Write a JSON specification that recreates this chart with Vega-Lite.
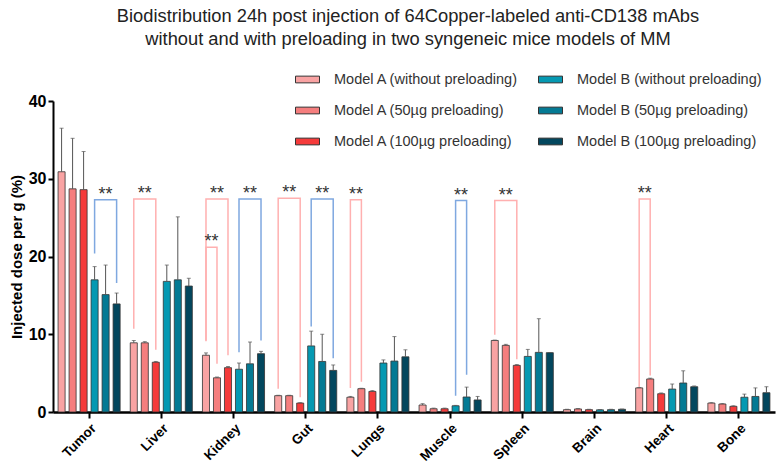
{
  "$schema": "https://vega.github.io/schema/vega-lite/v6.json",
  "autosize": {"type": "none"},
  "width": 722,
  "height": 311,
  "padding": {"left": 53, "top": 101, "right": 9, "bottom": 57},
  "background": "white",
  "title": {
    "text": ["Biodistribution 24h post injection of 64Copper-labeled anti-CD138 mAbs", "without and with preloading in two syngeneic mice models of MM"],
    "font": "Liberation Sans", "fontSize": 18.3, "fontWeight": "normal", "color": "#222",
    "anchor": "middle", "frame": "group", "offset": 18, "lineHeight": 23, "dx": -6
  },
  "config": {"view": {"stroke": null}, "font": "Liberation Sans"},
  "datasets": {
    "bars": [
      {"organ": "Tumor", "group": "Model A (without preloading)", "value": 30.9, "err": 36.5},
      {"organ": "Tumor", "group": "Model A (50µg preloading)", "value": 28.7, "err": 35.2},
      {"organ": "Tumor", "group": "Model A (100µg preloading)", "value": 28.6, "err": 33.5},
      {"organ": "Tumor", "group": "Model B (without preloading)", "value": 17.0, "err": 18.7},
      {"organ": "Tumor", "group": "Model B (50µg preloading)", "value": 15.1, "err": 18.9},
      {"organ": "Tumor", "group": "Model B (100µg preloading)", "value": 13.9, "err": 15.3},
      {"organ": "Liver", "group": "Model A (without preloading)", "value": 8.9, "err": 9.2},
      {"organ": "Liver", "group": "Model A (50µg preloading)", "value": 8.9, "err": 9.05},
      {"organ": "Liver", "group": "Model A (100µg preloading)", "value": 6.4, "err": 6.5},
      {"organ": "Liver", "group": "Model B (without preloading)", "value": 16.8, "err": 18.9},
      {"organ": "Liver", "group": "Model B (50µg preloading)", "value": 17.0, "err": 25.1},
      {"organ": "Liver", "group": "Model B (100µg preloading)", "value": 16.2, "err": 17.2},
      {"organ": "Kidney", "group": "Model A (without preloading)", "value": 7.3, "err": 7.6},
      {"organ": "Kidney", "group": "Model A (50µg preloading)", "value": 4.4, "err": 4.5},
      {"organ": "Kidney", "group": "Model A (100µg preloading)", "value": 5.7, "err": 5.85},
      {"organ": "Kidney", "group": "Model B (without preloading)", "value": 5.5, "err": 6.3},
      {"organ": "Kidney", "group": "Model B (50µg preloading)", "value": 6.2, "err": 9.0},
      {"organ": "Kidney", "group": "Model B (100µg preloading)", "value": 7.5, "err": 7.8},
      {"organ": "Gut", "group": "Model A (without preloading)", "value": 2.1, "err": 2.15},
      {"organ": "Gut", "group": "Model A (50µg preloading)", "value": 2.1, "err": 2.15},
      {"organ": "Gut", "group": "Model A (100µg preloading)", "value": 1.15, "err": 1.2},
      {"organ": "Gut", "group": "Model B (without preloading)", "value": 8.5, "err": 10.4},
      {"organ": "Gut", "group": "Model B (50µg preloading)", "value": 6.5, "err": 10.0},
      {"organ": "Gut", "group": "Model B (100µg preloading)", "value": 5.35, "err": 6.05},
      {"organ": "Lungs", "group": "Model A (without preloading)", "value": 1.9, "err": 2.0},
      {"organ": "Lungs", "group": "Model A (50µg preloading)", "value": 3.0, "err": 3.05},
      {"organ": "Lungs", "group": "Model A (100µg preloading)", "value": 2.65, "err": 2.75},
      {"organ": "Lungs", "group": "Model B (without preloading)", "value": 6.3, "err": 6.7},
      {"organ": "Lungs", "group": "Model B (50µg preloading)", "value": 6.55, "err": 9.7},
      {"organ": "Lungs", "group": "Model B (100µg preloading)", "value": 7.1, "err": 8.0},
      {"organ": "Muscle", "group": "Model A (without preloading)", "value": 0.9, "err": 1.07},
      {"organ": "Muscle", "group": "Model A (50µg preloading)", "value": 0.42, "err": 0.5},
      {"organ": "Muscle", "group": "Model A (100µg preloading)", "value": 0.42, "err": 0.5},
      {"organ": "Muscle", "group": "Model B (without preloading)", "value": 0.8, "err": 0.85},
      {"organ": "Muscle", "group": "Model B (50µg preloading)", "value": 1.93, "err": 3.2},
      {"organ": "Muscle", "group": "Model B (100µg preloading)", "value": 1.55, "err": 2.0},
      {"organ": "Spleen", "group": "Model A (without preloading)", "value": 9.2, "err": 9.25},
      {"organ": "Spleen", "group": "Model A (50µg preloading)", "value": 8.57, "err": 8.7},
      {"organ": "Spleen", "group": "Model A (100µg preloading)", "value": 6.0, "err": 6.1},
      {"organ": "Spleen", "group": "Model B (without preloading)", "value": 7.15, "err": 8.05},
      {"organ": "Spleen", "group": "Model B (50µg preloading)", "value": 7.67, "err": 12.0},
      {"organ": "Spleen", "group": "Model B (100µg preloading)", "value": 7.63, "err": 7.65},
      {"organ": "Brain", "group": "Model A (without preloading)", "value": 0.3, "err": 0.35},
      {"organ": "Brain", "group": "Model A (50µg preloading)", "value": 0.39, "err": 0.45},
      {"organ": "Brain", "group": "Model A (100µg preloading)", "value": 0.3, "err": 0.35},
      {"organ": "Brain", "group": "Model B (without preloading)", "value": 0.28, "err": 0.32},
      {"organ": "Brain", "group": "Model B (50µg preloading)", "value": 0.3, "err": 0.35},
      {"organ": "Brain", "group": "Model B (100µg preloading)", "value": 0.35, "err": 0.38},
      {"organ": "Heart", "group": "Model A (without preloading)", "value": 3.1, "err": 3.15},
      {"organ": "Heart", "group": "Model A (50µg preloading)", "value": 4.25, "err": 4.35},
      {"organ": "Heart", "group": "Model A (100µg preloading)", "value": 2.35, "err": 2.45},
      {"organ": "Heart", "group": "Model B (without preloading)", "value": 2.95, "err": 3.6},
      {"organ": "Heart", "group": "Model B (50µg preloading)", "value": 3.73, "err": 5.3},
      {"organ": "Heart", "group": "Model B (100µg preloading)", "value": 3.25, "err": 3.35},
      {"organ": "Bone", "group": "Model A (without preloading)", "value": 1.15, "err": 1.2},
      {"organ": "Bone", "group": "Model A (50µg preloading)", "value": 1.03, "err": 1.08},
      {"organ": "Bone", "group": "Model A (100µg preloading)", "value": 0.73, "err": 0.8},
      {"organ": "Bone", "group": "Model B (without preloading)", "value": 1.9, "err": 2.3},
      {"organ": "Bone", "group": "Model B (50µg preloading)", "value": 2.0, "err": 3.1},
      {"organ": "Bone", "group": "Model B (100µg preloading)", "value": 2.48, "err": 3.25}
    ],
    "brackets": [
      {"id": 1, "model": "A", "organ": "Liver", "group": "Model A (without preloading)", "y": 10.7, "seq": 1},
      {"id": 1, "model": "A", "organ": "Liver", "group": "Model A (without preloading)", "y": 27.4, "seq": 2},
      {"id": 1, "model": "A", "organ": "Liver", "group": "Model A (100µg preloading)", "y": 27.4, "seq": 3},
      {"id": 1, "model": "A", "organ": "Liver", "group": "Model A (100µg preloading)", "y": 8.0, "seq": 4},
      {"id": 2, "model": "A", "organ": "Kidney", "group": "Model A (without preloading)", "y": 9.2, "seq": 1},
      {"id": 2, "model": "A", "organ": "Kidney", "group": "Model A (without preloading)", "y": 27.4, "seq": 2},
      {"id": 2, "model": "A", "organ": "Kidney", "group": "Model A (100µg preloading)", "y": 27.4, "seq": 3},
      {"id": 2, "model": "A", "organ": "Kidney", "group": "Model A (100µg preloading)", "y": 7.3, "seq": 4},
      {"id": 3, "model": "A", "organ": "Kidney", "group": "Model A (without preloading)", "y": 9.1, "seq": 1},
      {"id": 3, "model": "A", "organ": "Kidney", "group": "Model A (without preloading)", "y": 21.2, "seq": 2},
      {"id": 3, "model": "A", "organ": "Kidney", "group": "Model A (50µg preloading)", "y": 21.2, "seq": 3},
      {"id": 3, "model": "A", "organ": "Kidney", "group": "Model A (50µg preloading)", "y": 6.2, "seq": 4},
      {"id": 4, "model": "A", "organ": "Gut", "group": "Model A (without preloading)", "y": 3.0, "seq": 1},
      {"id": 4, "model": "A", "organ": "Gut", "group": "Model A (without preloading)", "y": 27.5, "seq": 2},
      {"id": 4, "model": "A", "organ": "Gut", "group": "Model A (100µg preloading)", "y": 27.5, "seq": 3},
      {"id": 4, "model": "A", "organ": "Gut", "group": "Model A (100µg preloading)", "y": 1.9, "seq": 4},
      {"id": 5, "model": "A", "organ": "Lungs", "group": "Model A (without preloading)", "y": 3.1, "seq": 1},
      {"id": 5, "model": "A", "organ": "Lungs", "group": "Model A (without preloading)", "y": 27.3, "seq": 2},
      {"id": 5, "model": "A", "organ": "Lungs", "group": "Model A (50µg preloading)", "y": 27.3, "seq": 3},
      {"id": 5, "model": "A", "organ": "Lungs", "group": "Model A (50µg preloading)", "y": 3.9, "seq": 4},
      {"id": 6, "model": "A", "organ": "Spleen", "group": "Model A (without preloading)", "y": 9.95, "seq": 1},
      {"id": 6, "model": "A", "organ": "Spleen", "group": "Model A (without preloading)", "y": 27.2, "seq": 2},
      {"id": 6, "model": "A", "organ": "Spleen", "group": "Model A (100µg preloading)", "y": 27.2, "seq": 3},
      {"id": 6, "model": "A", "organ": "Spleen", "group": "Model A (100µg preloading)", "y": 6.8, "seq": 4},
      {"id": 7, "model": "A", "organ": "Heart", "group": "Model A (without preloading)", "y": 3.2, "seq": 1},
      {"id": 7, "model": "A", "organ": "Heart", "group": "Model A (without preloading)", "y": 27.4, "seq": 2},
      {"id": 7, "model": "A", "organ": "Heart", "group": "Model A (50µg preloading)", "y": 27.4, "seq": 3},
      {"id": 7, "model": "A", "organ": "Heart", "group": "Model A (50µg preloading)", "y": 4.7, "seq": 4},
      {"id": 8, "model": "B", "organ": "Tumor", "group": "Model B (without preloading)", "y": 20.4, "seq": 1},
      {"id": 8, "model": "B", "organ": "Tumor", "group": "Model B (without preloading)", "y": 27.3, "seq": 2},
      {"id": 8, "model": "B", "organ": "Tumor", "group": "Model B (100µg preloading)", "y": 27.3, "seq": 3},
      {"id": 8, "model": "B", "organ": "Tumor", "group": "Model B (100µg preloading)", "y": 16.6, "seq": 4},
      {"id": 9, "model": "B", "organ": "Kidney", "group": "Model B (without preloading)", "y": 7.7, "seq": 1},
      {"id": 9, "model": "B", "organ": "Kidney", "group": "Model B (without preloading)", "y": 27.4, "seq": 2},
      {"id": 9, "model": "B", "organ": "Kidney", "group": "Model B (100µg preloading)", "y": 27.4, "seq": 3},
      {"id": 9, "model": "B", "organ": "Kidney", "group": "Model B (100µg preloading)", "y": 9.2, "seq": 4},
      {"id": 10, "model": "B", "organ": "Gut", "group": "Model B (without preloading)", "y": 11.0, "seq": 1},
      {"id": 10, "model": "B", "organ": "Gut", "group": "Model B (without preloading)", "y": 27.4, "seq": 2},
      {"id": 10, "model": "B", "organ": "Gut", "group": "Model B (100µg preloading)", "y": 27.4, "seq": 3},
      {"id": 10, "model": "B", "organ": "Gut", "group": "Model B (100µg preloading)", "y": 6.9, "seq": 4},
      {"id": 11, "model": "B", "organ": "Muscle", "group": "Model B (without preloading)", "y": 2.1, "seq": 1},
      {"id": 11, "model": "B", "organ": "Muscle", "group": "Model B (without preloading)", "y": 27.2, "seq": 2},
      {"id": 11, "model": "B", "organ": "Muscle", "group": "Model B (50µg preloading)", "y": 27.2, "seq": 3},
      {"id": 11, "model": "B", "organ": "Muscle", "group": "Model B (50µg preloading)", "y": 4.8, "seq": 4}
    ],
    "stars": [
      {"organ": "Tumor", "group": "Model B (50µg preloading)", "y": 27.3, "kind": "span"},
      {"organ": "Liver", "group": "Model A (50µg preloading)", "y": 27.4, "kind": "span"},
      {"organ": "Kidney", "group": "Model A (50µg preloading)", "y": 27.4, "kind": "span"},
      {"organ": "Kidney", "group": "Model A (without preloading)", "y": 21.2, "kind": "adjacent"},
      {"organ": "Kidney", "group": "Model B (50µg preloading)", "y": 27.4, "kind": "span"},
      {"organ": "Gut", "group": "Model A (50µg preloading)", "y": 27.5, "kind": "span"},
      {"organ": "Gut", "group": "Model B (50µg preloading)", "y": 27.4, "kind": "span"},
      {"organ": "Lungs", "group": "Model A (without preloading)", "y": 27.3, "kind": "adjacent"},
      {"organ": "Muscle", "group": "Model B (without preloading)", "y": 27.2, "kind": "adjacent"},
      {"organ": "Spleen", "group": "Model A (50µg preloading)", "y": 27.2, "kind": "span"},
      {"organ": "Heart", "group": "Model A (without preloading)", "y": 27.4, "kind": "adjacent"}
    ]
  },
  "encoding": {
    "x": {
      "field": "organ", "type": "nominal",
      "sort": ["Tumor", "Liver", "Kidney", "Gut", "Lungs", "Muscle", "Spleen", "Brain", "Heart", "Bone"],
      "scale": {"paddingInner": 0, "paddingOuter": 0},
      "axis": {
        "title": null, "labelAngle": -45, "labelFont": "Liberation Sans", "labelFontSize": 13.5, "labelFontWeight": "bold",
        "labelColor": "#000", "domainColor": "#000", "domainWidth": 2.5, "tickColor": "#000", "tickWidth": 2, "tickSize": 6,
        "labelPadding": 3
      }
    },
    "xOffset": {
      "field": "group", "type": "nominal",
      "scale": {
        "domain": ["Model A (without preloading)", "Model A (50µg preloading)", "Model A (100µg preloading)", "Model B (without preloading)", "Model B (50µg preloading)", "Model B (100µg preloading)"],
        "paddingInner": 0.36, "paddingOuter": 0.46
      }
    }
  },
  "layer": [
    {
      "data": {"name": "bars"},
      "mark": {"type": "bar", "stroke": "#333", "strokeWidth": 0.8},
      "encoding": {
        "y": {
          "field": "value", "type": "quantitative", "title": "Injected dose per g (%)",
          "scale": {"domain": [0, 40], "nice": false},
          "axis": {
            "values": [0, 10, 20, 30, 40], "grid": false, "labelFont": "Liberation Sans", "labelFontSize": 16, "labelFontWeight": "bold",
            "labelColor": "#000", "domainColor": "#000", "domainWidth": 2, "tickColor": "#000", "tickWidth": 2, "tickSize": 5,
            "labelPadding": 2, "titleFont": "Liberation Sans", "titleFontSize": 15, "titleFontWeight": "bold", "titleColor": "#000", "titlePadding": 4
          }
        },
        "color": {
          "field": "group", "type": "nominal",
          "scale": {
            "domain": ["Model A (without preloading)", "Model A (50µg preloading)", "Model A (100µg preloading)", "Model B (without preloading)", "Model B (50µg preloading)", "Model B (100µg preloading)"],
            "range": ["#F9A3A3", "#F57E7E", "#F53B3B", "#0599B2", "#047A94", "#03475E"]
          },
          "legend": {
            "orient": "none", "legendX": 242, "legendY": -34, "columns": 2, "title": null,
            "symbolType": "M-1,-0.28H1V0.28H-1Z", "symbolSize": 576, "symbolStrokeColor": "#333", "symbolStrokeWidth": 1,
            "symbolOpacity": 1, "labelFont": "Liberation Sans", "labelFontSize": 14.5, "labelColor": "#333",
            "rowPadding": 12, "columnPadding": 17, "labelOffset": 14, "labelLimit": 300, "padding": 0
          }
        }
      }
    },
    {
      "data": {"name": "bars"},
      "mark": {"type": "rule", "color": "#555", "strokeWidth": 1},
      "encoding": {
        "y": {"field": "value", "type": "quantitative", "title": "Injected dose per g (%)"},
        "y2": {"field": "err"}
      }
    },
    {
      "data": {"name": "bars"},
      "mark": {"type": "tick", "color": "#555", "thickness": 1, "size": 4},
      "encoding": {
        "y": {"field": "err", "type": "quantitative", "title": "Injected dose per g (%)"}
      }
    },
    {
      "data": {"name": "brackets"},
      "transform": [{"filter": "datum.model === 'A'"}],
      "mark": {"type": "line", "color": "#FFB0B0", "strokeWidth": 1.5},
      "encoding": {
        "y": {"field": "y", "type": "quantitative", "title": "Injected dose per g (%)"},
        "detail": {"field": "id", "type": "nominal"},
        "order": {"field": "seq", "type": "quantitative"}
      }
    },
    {
      "data": {"name": "brackets"},
      "transform": [{"filter": "datum.model === 'B'"}],
      "mark": {"type": "line", "color": "#7FA8E0", "strokeWidth": 1.5},
      "encoding": {
        "y": {"field": "y", "type": "quantitative", "title": "Injected dose per g (%)"},
        "detail": {"field": "id", "type": "nominal"},
        "order": {"field": "seq", "type": "quantitative"}
      }
    },
    {
      "data": {"name": "stars"},
      "transform": [{"filter": "datum.kind === 'span'"}],
      "mark": {"type": "text", "text": "**", "fontSize": 18, "color": "#333", "baseline": "alphabetic", "dy": 0},
      "encoding": {
        "y": {"field": "y", "type": "quantitative", "title": "Injected dose per g (%)"}
      }
    },
    {
      "data": {"name": "stars"},
      "transform": [{"filter": "datum.kind === 'adjacent'"}],
      "mark": {"type": "text", "text": "**", "fontSize": 18, "color": "#333", "baseline": "alphabetic", "dy": 0, "dx": 5.5},
      "encoding": {
        "y": {"field": "y", "type": "quantitative", "title": "Injected dose per g (%)"}
      }
    }
  ]
}
